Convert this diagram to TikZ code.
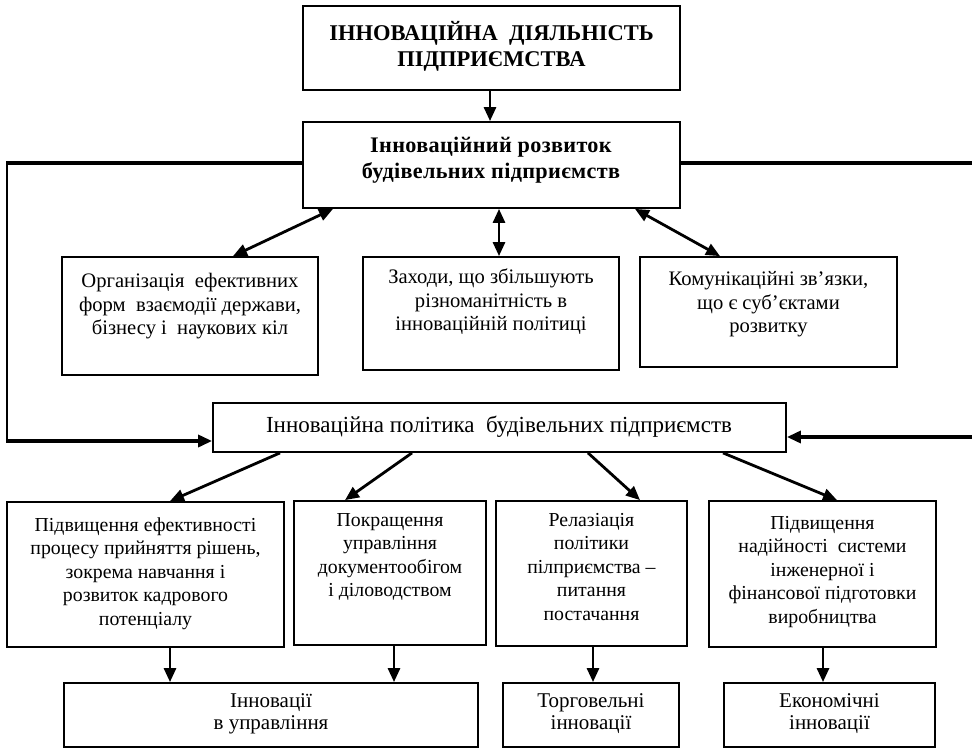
\documentclass[tikz,border=0pt]{standalone}
\usepackage{fontspec}
\setmainfont{Liberation Serif}
\usetikzlibrary{arrows.meta}
\begin{document}
\begin{tikzpicture}[x=1pt,y=-1pt,
  box/.style={draw, line width=1.8pt, inner sep=0pt, rectangle},
  txt/.style={anchor=north, inner sep=0pt, align=center, font=\fontsize{19.8}{23.5}\selectfont},
  utxt/.style={anchor=north, inner sep=0pt, align=center, font=\fontsize{20.6}{23.5}\selectfont},
  btxt/.style={anchor=north, inner sep=0pt, align=center, font=\fontsize{22.2}{26}\selectfont\bfseries\addfontfeatures{LetterSpace=1.5}},
  ttxt/.style={anchor=north, inner sep=0pt, align=center, font=\fontsize{22.5}{26}\selectfont\bfseries},
  lowtxt/.style={anchor=north, inner sep=0pt, align=center, font=\fontsize{21}{22}\selectfont},
  tip/.tip={Triangle[length=14pt,width=12pt]},
  conn/.style={line width=2.8pt, -tip},
  dconn/.style={line width=2.8pt, tip-tip},
  fb/.style={line width=3.3pt},
  fbv/.style={line width=2pt}]
\useasboundingbox (0,0) rectangle (972,749);
\fill[white] (0,0) rectangle (972,749);

% boxes
\node[box, minimum width=377pt, minimum height=84pt] (top) at (491.5,48) {};
\node[box, minimum width=377pt, minimum height=86pt] (dev) at (491.5,165) {};
\node[box, minimum width=256pt, minimum height=118pt] (A) at (190,316) {};
\node[box, minimum width=256pt, minimum height=113pt] (B) at (491,313.5) {};
\node[box, minimum width=257pt, minimum height=110pt] (C) at (768.5,312) {};
\node[box, minimum width=573pt, minimum height=49pt] (pol) at (499.5,427.5) {};
\node[box, minimum width=277pt, minimum height=145pt] (D) at (145.5,574.5) {};
\node[box, minimum width=192pt, minimum height=144pt] (E) at (390,573) {};
\node[box, minimum width=191pt, minimum height=145pt] (F) at (591.5,573.5) {};
\node[box, minimum width=227pt, minimum height=146pt] (G) at (822.5,574) {};
\node[box, minimum width=414pt, minimum height=64pt] (H1) at (271,715) {};
\node[box, minimum width=176pt, minimum height=64pt] (H2) at (591,715) {};
\node[box, minimum width=211pt, minimum height=64pt] (H3) at (829.5,715) {};

% texts
\node[ttxt] (topt) at (491.5,21) {\strut ІННОВАЦІЙНА\ \ ДІЯЛЬНІСТЬ\\ПІДПРИЄМСТВА};
\node[btxt] (devt) at (491,134.5) {\strut Інноваційний розвиток\\будівельних підприємств};
\node[utxt] (At) at (190,271) {\strut Організація\ \ ефективних\\форм\ \ взаємодії держави,\\бізнесу і\ \ наукових кіл};
\node[utxt] (Bt) at (491,267) {\strut Заходи, що збільшують\\різноманітність в\\інноваційній політиці};
\node[utxt] (Ct) at (768.5,269) {\strut Комунікаційні зв’язки,\\що є суб’єктами\\розвитку};
\node[anchor=center, inner sep=0pt, font=\fontsize{23}{26}\selectfont] (polt) at (499,427) {Інноваційна політика\ \ будівельних підприємств};
\node[txt] (Dt) at (145.5,514.5) {\strut Підвищення ефективності\\процесу прийняття рішень,\\зокрема навчання і\\розвиток кадрового\\потенціалу};
\node[txt] (Et) at (390,509.5) {\strut Покращення\\управління\\документообігом\\і діловодством};
\node[txt] (Ft) at (591.5,509.5) {\strut Релазіація\\політики\\пілприємства –\\питання\\постачання};
\node[txt] (Gt) at (822.5,512.5) {\strut Підвищення\\надійності\ \ системи\\інженерної і\\фінансової підготовки\\виробництва};
\node[lowtxt] (H1t) at (271,692) {\strut Інновації\\в управління};
\node[lowtxt] (H2t) at (591,692) {\strut Торговельні\\інновації};
\node[lowtxt] (H3t) at (829.5,692) {\strut Економічні\\інновації};

% connectors
\draw[conn] (490,0 |- top.south) -- (490,0 |- dev.north);
\draw[dconn] (333,0 |- dev.south) -- (233,0 |- A.north);
\draw[dconn] (499,0 |- dev.south) -- (499,0 |- B.north);
\draw[dconn] (635,0 |- dev.south) -- (720,0 |- C.north);

\draw[conn] (280,0 |- pol.south) -- (170,0 |- D.north);
\draw[conn] (412,0 |- pol.south) -- (345,0 |- E.north);
\draw[conn] (588,0 |- pol.south) -- (640,0 |- F.north);
\draw[conn] (723,0 |- pol.south) -- (837,0 |- G.north);

\draw[conn] (170,0 |- D.south) -- (170,0 |- H1.north);
\draw[conn] (394,0 |- E.south) -- (394,0 |- H1.north);
\draw[conn] (593,0 |- F.south) -- (593,0 |- H2.north);
\draw[conn] (823,0 |- G.south) -- (823,0 |- H3.north);

% feedback lines
\coordinate (lt) at (7,163);
\coordinate (lb) at (7,441);
\coordinate (rt) at (972,163);
\coordinate (rb) at (972,437);
\draw[fb] (dev.west |- lt) -- ([xshift=-1pt]lt);
\draw[fbv] (lt) -- (lb);
\draw[fb, -tip] ([xshift=-1pt]lb) -- (pol.west |- lb);
\draw[fb] (dev.east |- rt) -- (rt);
\draw[fb, -tip] (rb) -- (pol.east |- rb);
\end{tikzpicture}
\end{document}
